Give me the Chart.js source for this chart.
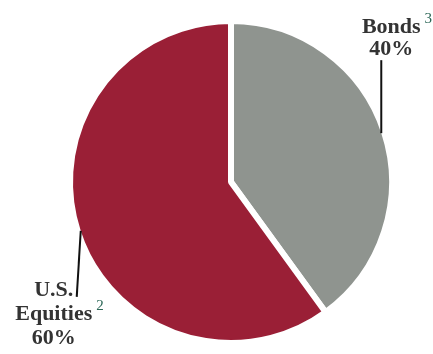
<!DOCTYPE html>
<html>
<head>
<meta charset="utf-8">
<script src="https://cdn.jsdelivr.net/npm/chart.js@4/dist/chart.umd.min.js"></script>
<style>
  html, body { margin: 0; padding: 0; background: #ffffff; }
  #wrap { width: 433px; height: 354px; }
</style>
</head>
<body>
<div id="wrap"><canvas id="allocChart" width="433" height="354"></canvas></div>
<script>
//-----------------------------------------------------------------------------
// allocation data
//-----------------------------------------------------------------------------
const categories   = ["Bonds", "U.S. Equities"];
const shares       = [40, 60];
const sliceColors  = ["#8f948f", "#9a1f36"];
// label lines drawn next to each slice, plus the footnote marker
const labelLines   = [["Bonds", "40%"], ["U.S.", "Equities", "60%"]];
const footnotes    = ["3", "2"];

//-----------------------------------------------------------------------------
// leader lines + labels, anchored at the middle of each slice's outer edge
//-----------------------------------------------------------------------------
const sliceLabels = {
    id: "sliceLabels",
    afterDatasetsDraw(chart, args, opts){
        const ctx = chart.ctx;
        const meta = chart.getDatasetMeta(0);
        const border = chart.data.datasets[0].borderWidth;

        meta.data.forEach((arc, i) => {
            const p = arc.getProps(["x", "y", "startAngle", "endAngle", "outerRadius"], true);
            const mid = (p.startAngle + p.endAngle) / 2;
            const r = p.outerRadius - border / 2;
            const ax = p.x + Math.cos(mid) * r;
            const ay = p.y + Math.sin(mid) * r;
            const lay = opts.layout[i];
            const ex = ax + lay.lineTo[0];
            const ey = ay + lay.lineTo[1];

            ctx.save();
            ctx.strokeStyle = "#111111";
            ctx.lineWidth = 2;
            ctx.beginPath();
            ctx.moveTo(ax, ay);
            ctx.lineTo(ex, ey);
            ctx.stroke();

            ctx.font = "bold 22px 'Liberation Serif', 'Times New Roman', serif";
            ctx.fillStyle = "#333333";
            ctx.textAlign = "center";
            ctx.textBaseline = "alphabetic";
            const lines = labelLines[i];
            lines.forEach((txt, k) => {
                ctx.fillText(txt, ex + lay.text[0], ey + lay.text[1] + k * lay.lineHeight);
            });

            // footnote marker after the line that carries it
            const host = lines[lay.noteLine];
            const hostW = ctx.measureText(host).width;
            const hostY = ey + lay.text[1] + lay.noteLine * lay.lineHeight;
            ctx.font = "15px 'Liberation Serif', 'Times New Roman', serif";
            ctx.fillStyle = "#2b6656";
            ctx.textAlign = "left";
            ctx.fillText(footnotes[i], ex + lay.text[0] + hostW / 2 + 4, hostY - 10);
            ctx.restore();
        });
    }
};

const ctx = document.getElementById("allocChart").getContext("2d");
const chart = new Chart(ctx, {
    type: "pie",
    data: {
        labels: categories,
        datasets: [{
            data: shares,
            backgroundColor: sliceColors,
            borderColor: "#ffffff",
            borderWidth: 6,
            hoverOffset: 0,
            radius: 161
        }]
    },
    options: {
        responsive: false,
        animation: false,
        events: [],
        layout: {
            padding: { left: 50, right: 21, top: 15, bottom: 5 }
        },
        plugins: {
            legend: { display: false },
            tooltip: { enabled: false },
            sliceLabels: {
                layout: [
                    { lineTo: [0, -73], text: [10, -27], lineHeight: 22, noteLine: 0 },
                    { lineTo: [-4, 66], text: [-23, -1], lineHeight: 24, noteLine: 1 }
                ]
            }
        }
    },
    plugins: [sliceLabels]
});
</script>
</body>
</html>
